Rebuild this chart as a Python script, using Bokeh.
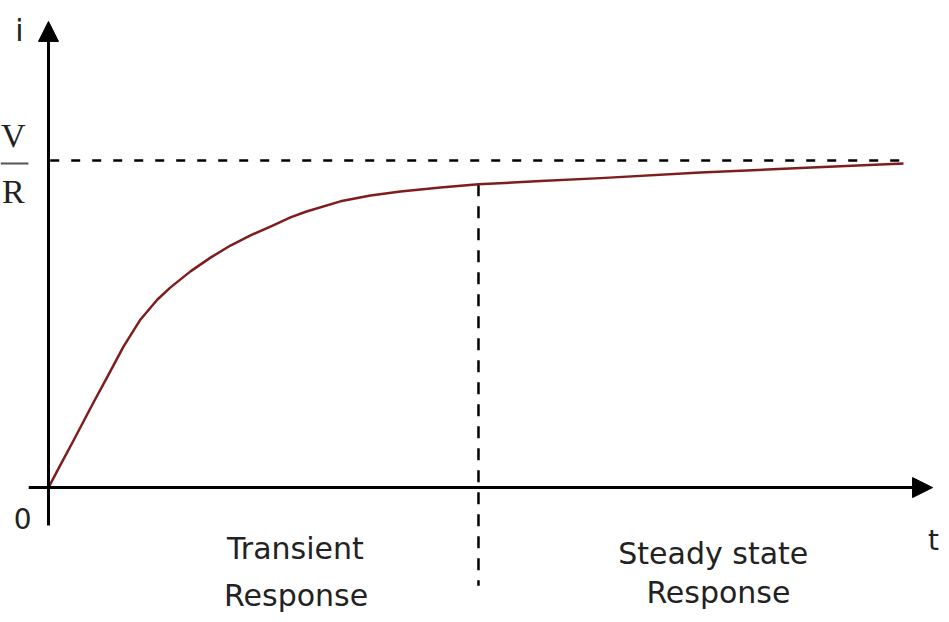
from bokeh.plotting import figure
from bokeh.models import Range1d, Arrow, NormalHead
from bokeh.core.properties import value
from bokeh.embed import file_html
from bokeh.resources import INLINE

# Current response of an RL circuit (time in arbitrary units, current as fraction of V/R)
t_vals = [0, 0.116, 0.291, 0.523, 0.686, 0.872, 1.070, 1.267, 1.419, 1.651, 1.884, 2.116,
          2.349, 2.581, 2.814, 3.000, 3.395, 3.744, 4.093, 4.558, 5.0, 5.721, 6.419, 7.581,
          8.744, 9.942]
i_vals = [0, 0.058, 0.144, 0.260, 0.339, 0.431, 0.514, 0.575, 0.612, 0.661, 0.703, 0.740,
          0.771, 0.798, 0.826, 0.844, 0.875, 0.893, 0.905, 0.917, 0.927, 0.937, 0.946, 0.963,
          0.977, 0.991]
steady_value = 1.0
boundary_t = 5.0
t_end = 10.02

region_labels = ["Transient", "Response", "Steady state", "Response"]
region_x = [2.87, 2.88, 7.73, 7.79]
region_y = [-0.187, -0.330, -0.202, -0.322]

p = figure(width=941, height=614, output_backend="svg", toolbar_location=None,
           x_range=Range1d(-0.558, 10.384), y_range=Range1d(-0.388, 1.489),
           x_axis_type=None, y_axis_type=None, min_border=0)
p.outline_line_color = None
p.xgrid.visible = False
p.ygrid.visible = False
p.background_fill_color = "white"
p.border_fill_color = "white"

# axes as arrows
p.add_layout(Arrow(end=NormalHead(size=20, fill_color="black", line_color="black"),
                   x_start=-0.23, y_start=0, x_end=10.28, y_end=0,
                   line_width=3, line_color="black"))
p.add_layout(Arrow(end=NormalHead(size=20, fill_color="black", line_color="black"),
                   x_start=0, y_start=-0.116, x_end=0, y_end=1.425,
                   line_width=3, line_color="black"))

# steady state dashed line
p.line([0.02, t_end], [steady_value, steady_value], line_color="black",
       line_width=2.5, line_dash="9 12")
# boundary dashed line
p.line([boundary_t, boundary_t], [0.927, -0.30], line_color="black",
       line_width=2.5, line_dash="12 10")

# response curve
p.line(t_vals, i_vals, line_color="#7f1d1d", line_width=2.5, line_join="round")

# axis labels
p.text(x=[-0.337], y=[1.398], text=["i"], text_font=value("DejaVu Sans"),
       text_font_size="30px", text_align="center", text_baseline="middle", text_color="#222222")
p.text(x=[-0.30], y=[-0.095], text=["0"], text_font=value("DejaVu Sans"),
       text_font_size="28px", text_align="center", text_baseline="middle", text_color="#222222")
p.text(x=[10.29], y=[-0.162], text=["t"], text_font=value("DejaVu Sans"),
       text_font_size="28px", text_align="center", text_baseline="middle", text_color="#222222")

# V/R label
p.text(x=[-0.41, -0.41], y=[1.076, 0.905], text=["V", "R"], text_font=value("Liberation Serif"),
       text_font_size="34px", text_align="center", text_baseline="middle", text_color="#222222")
p.line([-0.558, -0.233], [0.991, 0.991], line_color="#555555", line_width=2)

# region labels
p.text(x=region_x, y=region_y, text=region_labels, text_font=value("DejaVu Sans"),
       text_font_size="30px", text_align="center", text_baseline="middle", text_color="#222222")

open("out.html", "w").write(file_html(p, INLINE))
